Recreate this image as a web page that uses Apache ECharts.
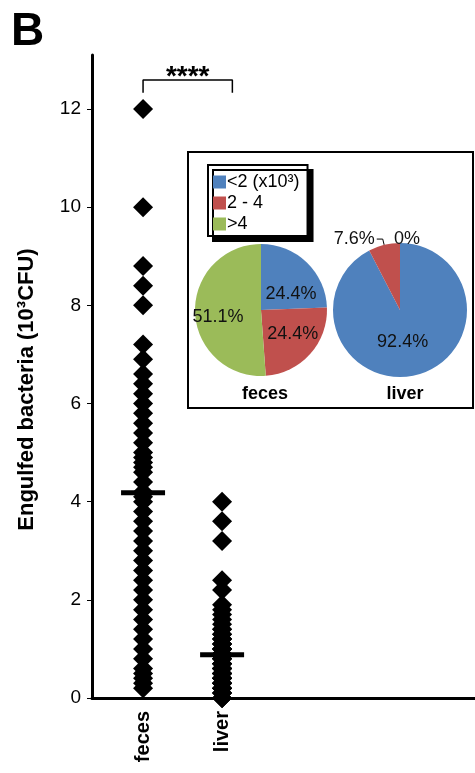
<!DOCTYPE html>
<html><head><meta charset="utf-8">
<script src="https://cdn.jsdelivr.net/npm/echarts@6/dist/echarts.min.js"></script>
<style>html,body{margin:0;padding:0;background:#fff}#c{width:475px;height:773px}</style>
</head><body><div id="c"></div>
<script>
const categories = ['feces', 'liver'];
const fecesValues = [12.0, 10.0, 8.8, 8.4, 8.0, 7.2, 6.9, 6.6, 6.4, 6.2, 6.0, 5.8, 5.6, 5.4, 5.2, 5.0, 4.9, 4.8, 4.7, 4.6, 4.4, 4.2, 4.1,
  4.0, 3.8, 3.6, 3.4, 3.2, 3.0, 2.8, 2.6, 2.4, 2.2, 2.0,
  1.8, 1.6, 1.4, 1.2, 1.0, 0.8, 0.6, 0.5, 0.4, 0.3, 0.2];
const liverValues = [4.0, 3.6, 3.2, 2.4, 2.2,
  1.9, 1.8, 1.7, 1.6, 1.5, 1.4, 1.4, 1.3, 1.3, 1.2, 1.2, 1.2, 1.1, 1.1, 1.1,
  1.0, 1.0, 1.0, 1.0, 0.9, 0.9, 0.9, 0.9, 0.8, 0.8, 0.8, 0.8, 0.7, 0.7, 0.7, 0.7,
  0.6, 0.6, 0.6, 0.6, 0.6, 0.5, 0.5, 0.5, 0.5, 0.5, 0.4, 0.4, 0.4, 0.4, 0.4,
  0.3, 0.3, 0.3, 0.3, 0.3, 0.2, 0.2, 0.2, 0.2, 0.1, 0.1, 0.1, 0, 0, 0];
const means = [4.18, 0.88];
const yTicks = [0, 2, 4, 6, 8, 10, 12];
const pieNames = ['<2 (x10³)', '2 - 4', '>4'];
const fecesPct = [24.4, 24.4, 51.1];
const liverPct = [92.4, 7.6, 0];
const significance = '****';
const pieColors = ['#4f81bd', '#c0504d', '#9bbb59'];

const FONT = 'Liberation Sans, Arial, sans-serif';
const chart = echarts.init(document.getElementById('c'));

const scatterData = [];
fecesValues.forEach(v => scatterData.push([1, v]));
liverValues.forEach(v => scatterData.push([2, v]));

const bracketY0 = 12.33, bracketY1 = 12.59;
const bracketX1 = 2.13;

function pieData(vals, labelCfgs) {
  return vals.map((v, i) => Object.assign({ name: pieNames[i], value: v, itemStyle: { color: pieColors[i] } }, labelCfgs ? labelCfgs[i] : {}));
}

chart.setOption({
  animation: false,
  textStyle: { fontFamily: FONT },
  color: pieColors,
  title: [
    { text: 'B', left: 6, top: 4, textStyle: { fontSize: 46, fontWeight: 'bold', color: '#000', fontFamily: FONT } },
    { text: categories[0], left: 260, top: 380, textAlign: 'center', textStyle: { fontSize: 18, fontWeight: 'bold', color: '#000', fontFamily: FONT } },
    { text: categories[1], left: 400, top: 380, textAlign: 'center', textStyle: { fontSize: 18, fontWeight: 'bold', color: '#000', fontFamily: FONT } }
  ],
  graphic: [
    { type: 'rect', z: 1, shape: { x: 188, y: 152, width: 285, height: 256 }, style: { fill: '#fff', stroke: '#000', lineWidth: 2 } }
  ],
  legend: {
    orient: 'vertical', left: 208, top: 165,
    data: pieNames,
    itemWidth: 13, itemHeight: 13, itemGap: 3,
    padding: [8, 8, 3, 5],
    backgroundColor: '#fff', borderColor: '#000', borderWidth: 2,
    shadowColor: '#000', shadowOffsetX: 5, shadowOffsetY: 5, shadowBlur: 0,
    icon: 'rect',
    textStyle: { fontSize: 18, color: '#000', fontFamily: FONT, padding: [0, 0, 0, -4] },
    selectedMode: false
  },
  grid: { left: 92, right: 0, top: 55, bottom: 75 },
  xAxis: {
    type: 'value', min: 0.354, max: 5.2,
    splitLine: { show: false },
    axisLine: { show: true, onZero: true, lineStyle: { color: '#000', width: 3 } },
    axisTick: { show: false },
    axisLabel: {
      customValues: [1, 2],
      rotate: 90, margin: 13,
      fontSize: 20, fontWeight: 'bold', color: '#000', fontFamily: FONT,
      formatter: v => categories[Math.round(v) - 1] || ''
    }
  },
  yAxis: {
    type: 'value', min: 0, max: 13.1, interval: 2,
    name: 'Engulfed bacteria (10³CFU)', nameLocation: 'middle', nameGap: 54,
    nameTextStyle: { fontSize: 22, fontWeight: 'bold', color: '#000', fontFamily: FONT, padding: [0, 26, 0, 0] },
    splitLine: { show: false },
    axisLine: { show: true, lineStyle: { color: '#000', width: 3 } },
    axisTick: { show: true, customValues: yTicks, length: 5, lineStyle: { color: '#000', width: 1 } },
    axisLabel: { customValues: yTicks, fontSize: 19, color: '#000', margin: 11, fontFamily: FONT }
  },
  series: [
    {
      type: 'scatter', symbol: 'diamond', symbolSize: 20,
      itemStyle: { color: '#000', opacity: 1 }, data: scatterData, z: 3
    },
    {
      type: 'scatter', symbol: 'rect', symbolSize: [44, 5],
      itemStyle: { color: '#000', opacity: 1 }, data: means.map((m, i) => [i + 1, m]), z: 4
    },
    {
      type: 'line', symbol: 'none', silent: true,
      lineStyle: { color: '#000', width: 1.5 },
      data: [[1, bracketY0], [1, bracketY1], [bracketX1, bracketY1], [bracketX1, bracketY0]]
    },
    {
      type: 'scatter', symbolSize: 0, silent: true,
      itemStyle: { opacity: 1 },
      data: [[(1 + bracketX1) / 2, bracketY1]],
      label: { show: true, position: 'top', distance: -11, formatter: significance, fontSize: 28, fontWeight: 'bold', color: '#000', fontFamily: FONT }
    },
    {
      type: 'pie', center: [261, 310], radius: 66, startAngle: 90, clockwise: true,
      z: 3, silent: true,
      label: { show: true, position: 'inside', formatter: '{c}%', fontSize: 18, color: '#111', fontFamily: FONT },
      labelLine: { show: false },
      data: pieData(fecesPct, [
        { label: { offset: [5, 10] } },
        { label: { offset: [5, 0] } },
        { label: { offset: [-7, 6] } }
      ])
    },
    {
      type: 'pie', center: [400, 310], radius: 67, startAngle: 90, clockwise: true,
      z: 3, silent: true, avoidLabelOverlap: false,
      label: { show: true, position: 'inside', formatter: '{c}%', fontSize: 18, color: '#111', fontFamily: FONT },
      labelLine: { show: false },
      data: pieData(liverPct, [
        { label: { offset: [-6, -3] } },
        { label: { position: 'outside', distanceToLabelLine: 2 }, labelLine: { show: true, length: 6, length2: 6, lineStyle: { color: '#000', width: 1 } } },
        { label: { position: 'outside', offset: [-11, -2] }, labelLine: { show: false, length: 2, length2: 0 } }
      ])
    }
  ]
});
</script></body></html>
